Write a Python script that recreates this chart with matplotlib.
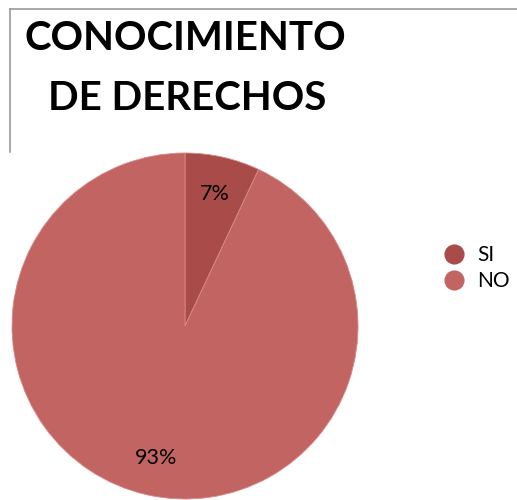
import matplotlib.pyplot as plt
from matplotlib.lines import Line2D

# data
labels = ["SI", "NO"]
values = [7, 93]
colors = ["#A84B49", "#C26462"]
title_lines = ["CONOCIMIENTO", "DE DERECHOS"]

W, H = 517, 500
fig = plt.figure(figsize=(W / 100, H / 100), dpi=100)
ax = fig.add_axes([0, 0, 1, 1])

# pie, center/radius in pixel units
wedges, texts, autotexts = ax.pie(
    values, colors=colors, startangle=90, counterclock=False,
    center=(185, H - 326), radius=173,
    autopct="%1.0f%%", pctdistance=0.78,
    textprops=dict(fontsize=15.5, family="Lato", color="black"),
    wedgeprops=dict(linewidth=0.6, edgecolor="#D88A88"),
)
ax.set_xlim(0, W)
ax.set_ylim(0, H)
ax.set_aspect("equal")
ax.axis("off")

# title, two lines
fig.text(25 / W, 1 - 50 / H, title_lines[0], fontsize=29, fontweight="bold",
         family="Lato", va="baseline", ha="left")
fig.text(48 / W, 1 - 110 / H, title_lines[1], fontsize=29, fontweight="bold",
         family="Lato", va="baseline", ha="left")

# frame lines
fig.add_artist(Line2D([10 / W, 1], [1 - 9 / H, 1 - 9 / H], color="#9A9A9A", lw=1.2))
fig.add_artist(Line2D([10 / W, 10 / W], [1 - 9 / H, 1 - 152 / H], color="#9A9A9A", lw=1.2))

# legend
handles = [Line2D([], [], marker="o", linestyle="", markersize=13.5,
                  markerfacecolor=c, markeredgecolor=c) for c in colors]
fig.legend(handles, labels, loc="center left", bbox_to_anchor=(423 / W, 1 - 268 / H),
           frameon=False, prop=dict(family="Lato", size=15),
           handletextpad=0.5, labelspacing=0.3, handlelength=1.2)

fig.savefig("out.png", dpi=100)
